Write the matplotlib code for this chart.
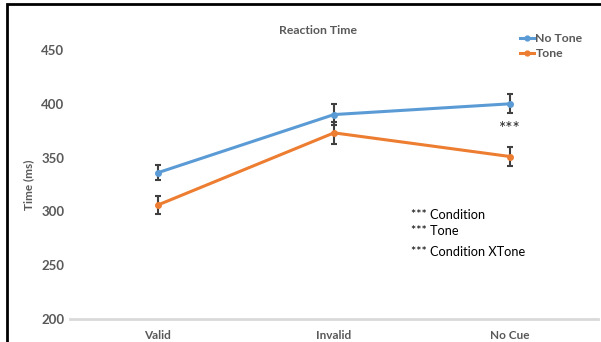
import matplotlib.pyplot as plt
from matplotlib.lines import Line2D
from matplotlib.patches import Rectangle

categories = ["Valid", "Invalid", "No Cue"]
no_tone = [336, 390, 400]
no_tone_err = [7, 10, 9]
tone = [306, 373, 351]
tone_err = [8, 10, 9]

blue = "#5b9bd5"
orange = "#ed7d31"
gray = "#595959"

plt.rcParams["font.family"] = ["Lato", "DejaVu Sans"]

fig = plt.figure(figsize=(6.01, 3.42), dpi=100)
ax = fig.add_axes([70 / 601, 23 / 342, 528 / 601, 269 / 342])

x = range(len(categories))
ax.errorbar(x, no_tone, yerr=no_tone_err, color=blue, lw=2.2, marker="o", ms=4,
            ecolor="#404040", elinewidth=1.5, capsize=2.5, capthick=1.5)
ax.errorbar(x, tone, yerr=tone_err, color=orange, lw=2.2, marker="o", ms=4,
            ecolor="#404040", elinewidth=1.5, capsize=2.5, capthick=1.5)

ax.set_xlim(-0.5, 2.5)
ax.set_ylim(200, 450)
ax.set_yticks([200, 250, 300, 350, 400, 450])
ax.set_xticks(list(x))
ax.set_xticklabels(categories)
for s in ["top", "right", "left"]:
    ax.spines[s].set_visible(False)
ax.spines["bottom"].set_color("#d9d9d9")
ax.spines["bottom"].set_linewidth(2)
ax.tick_params(length=0, labelsize=8.5, labelcolor=gray)
ax.tick_params(axis="y", labelsize=9.5, pad=4)
ax.tick_params(axis="x", pad=8)
for lab in ax.get_xticklabels() + ax.get_yticklabels():
    lab.set_fontweight("bold")

ax.set_ylabel("Time (ms)", fontsize=8.5, color=gray, fontweight="bold", labelpad=5)
fig.text(318 / 601, 1 - 30 / 342, "Reaction Time", ha="center", va="center",
         fontsize=8.8, color=gray, fontweight="bold")

handles = [Line2D([0], [0], color=blue, lw=2.2, marker="o", ms=3.5),
           Line2D([0], [0], color=orange, lw=2.2, marker="o", ms=3.5)]
leg = ax.legend(handles, ["No Tone", "Tone"], loc="upper left",
                bbox_to_anchor=(444 / 528, 1 + 23 / 269), frameon=False,
                fontsize=8.8, handlelength=1.1, handletextpad=0.15, labelspacing=0.35,
                borderpad=0)
for t in leg.get_texts():
    t.set_color(gray)
    t.set_fontweight("bold")

ax.text(2, 377, "***", ha="center", va="center", fontsize=12.5, color="#262626")
ax.text(1.44, 297, "*** Condition", fontsize=9.2, va="center", color="black")
ax.text(1.44, 282, "*** Tone", fontsize=9.2, va="center", color="black")
ax.text(1.44, 262, "*** Condition XTone", fontsize=9.2, va="center", color="black")

fig.patches.append(Rectangle((7 / 601, -0.1), 1.2, 1.1 - 4.5 / 342, transform=fig.transFigure,
                             fill=False, edgecolor="black", lw=2))

fig.savefig("out.png", dpi=100)
